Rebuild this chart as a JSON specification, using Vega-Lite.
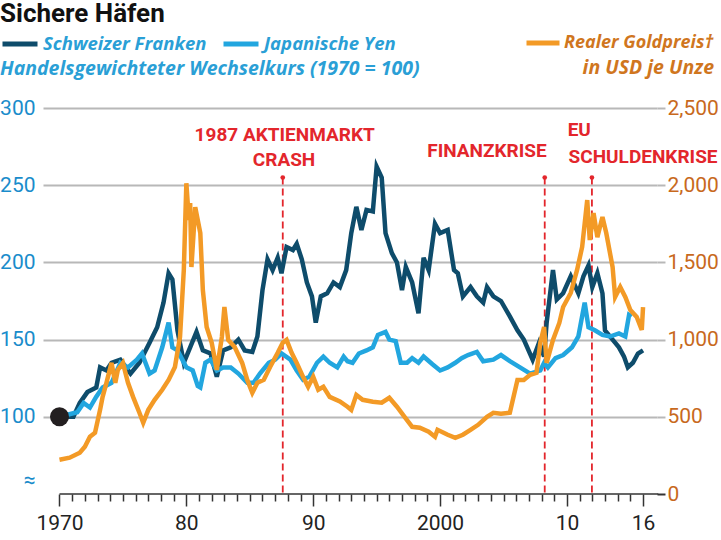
{
  "$schema": "https://vega.github.io/schema/vega-lite/v6.json",
  "width": 614,
  "height": 386,
  "autosize": {"type": "none"},
  "padding": {"left": 43, "top": 108, "right": 64, "bottom": 46},
  "background": "white",
  "config": {"view": {"stroke": null}},
  "title": {
    "text": "Sichere Häfen",
    "anchor": "start",
    "frame": "group",
    "dx": -43,
    "offset": -3,
    "font": "Roboto",
    "fontSize": 26,
    "fontWeight": "bold",
    "color": "#111111"
  },
  "datasets": {
    "fx": [
      {"series": "Schweizer Franken", "year": 1970.0, "value": 100},
      {"series": "Schweizer Franken", "year": 1971.1, "value": 100},
      {"series": "Schweizer Franken", "year": 1971.6, "value": 109},
      {"series": "Schweizer Franken", "year": 1972.2, "value": 116},
      {"series": "Schweizer Franken", "year": 1972.9, "value": 119},
      {"series": "Schweizer Franken", "year": 1973.2, "value": 132},
      {"series": "Schweizer Franken", "year": 1973.7, "value": 130},
      {"series": "Schweizer Franken", "year": 1974.1, "value": 135},
      {"series": "Schweizer Franken", "year": 1974.8, "value": 137},
      {"series": "Schweizer Franken", "year": 1975.6, "value": 128},
      {"series": "Schweizer Franken", "year": 1976.3, "value": 135},
      {"series": "Schweizer Franken", "year": 1977.1, "value": 148},
      {"series": "Schweizer Franken", "year": 1977.7, "value": 158},
      {"series": "Schweizer Franken", "year": 1978.2, "value": 174},
      {"series": "Schweizer Franken", "year": 1978.6, "value": 193},
      {"series": "Schweizer Franken", "year": 1978.9, "value": 189},
      {"series": "Schweizer Franken", "year": 1979.3, "value": 156},
      {"series": "Schweizer Franken", "year": 1979.8, "value": 135},
      {"series": "Schweizer Franken", "year": 1980.3, "value": 145},
      {"series": "Schweizer Franken", "year": 1980.8, "value": 155},
      {"series": "Schweizer Franken", "year": 1981.3, "value": 143},
      {"series": "Schweizer Franken", "year": 1981.9, "value": 141},
      {"series": "Schweizer Franken", "year": 1982.4, "value": 126},
      {"series": "Schweizer Franken", "year": 1982.9, "value": 143},
      {"series": "Schweizer Franken", "year": 1983.5, "value": 145},
      {"series": "Schweizer Franken", "year": 1984.1, "value": 150},
      {"series": "Schweizer Franken", "year": 1984.6, "value": 143},
      {"series": "Schweizer Franken", "year": 1985.2, "value": 142},
      {"series": "Schweizer Franken", "year": 1985.6, "value": 152},
      {"series": "Schweizer Franken", "year": 1986.0, "value": 182},
      {"series": "Schweizer Franken", "year": 1986.4, "value": 202},
      {"series": "Schweizer Franken", "year": 1986.8, "value": 195},
      {"series": "Schweizer Franken", "year": 1987.2, "value": 203},
      {"series": "Schweizer Franken", "year": 1987.5, "value": 193},
      {"series": "Schweizer Franken", "year": 1987.9, "value": 210},
      {"series": "Schweizer Franken", "year": 1988.4, "value": 208},
      {"series": "Schweizer Franken", "year": 1988.7, "value": 212},
      {"series": "Schweizer Franken", "year": 1989.1, "value": 202},
      {"series": "Schweizer Franken", "year": 1989.5, "value": 187},
      {"series": "Schweizer Franken", "year": 1989.9, "value": 178},
      {"series": "Schweizer Franken", "year": 1990.2, "value": 161},
      {"series": "Schweizer Franken", "year": 1990.6, "value": 178},
      {"series": "Schweizer Franken", "year": 1991.1, "value": 180},
      {"series": "Schweizer Franken", "year": 1991.6, "value": 187},
      {"series": "Schweizer Franken", "year": 1992.1, "value": 184},
      {"series": "Schweizer Franken", "year": 1992.6, "value": 195},
      {"series": "Schweizer Franken", "year": 1993.0, "value": 219},
      {"series": "Schweizer Franken", "year": 1993.4, "value": 236},
      {"series": "Schweizer Franken", "year": 1993.8, "value": 221},
      {"series": "Schweizer Franken", "year": 1994.2, "value": 234},
      {"series": "Schweizer Franken", "year": 1994.7, "value": 233},
      {"series": "Schweizer Franken", "year": 1995.0, "value": 262},
      {"series": "Schweizer Franken", "year": 1995.4, "value": 255},
      {"series": "Schweizer Franken", "year": 1995.7, "value": 219},
      {"series": "Schweizer Franken", "year": 1996.2, "value": 206},
      {"series": "Schweizer Franken", "year": 1996.6, "value": 200},
      {"series": "Schweizer Franken", "year": 1997.0, "value": 182},
      {"series": "Schweizer Franken", "year": 1997.3, "value": 197},
      {"series": "Schweizer Franken", "year": 1997.8, "value": 187},
      {"series": "Schweizer Franken", "year": 1998.3, "value": 167},
      {"series": "Schweizer Franken", "year": 1998.7, "value": 203},
      {"series": "Schweizer Franken", "year": 1999.1, "value": 195},
      {"series": "Schweizer Franken", "year": 1999.6, "value": 225},
      {"series": "Schweizer Franken", "year": 2000.0, "value": 219},
      {"series": "Schweizer Franken", "year": 2000.6, "value": 221},
      {"series": "Schweizer Franken", "year": 2001.1, "value": 195},
      {"series": "Schweizer Franken", "year": 2001.4, "value": 193},
      {"series": "Schweizer Franken", "year": 2001.8, "value": 178},
      {"series": "Schweizer Franken", "year": 2002.4, "value": 184},
      {"series": "Schweizer Franken", "year": 2002.9, "value": 178},
      {"series": "Schweizer Franken", "year": 2003.4, "value": 174},
      {"series": "Schweizer Franken", "year": 2003.7, "value": 184},
      {"series": "Schweizer Franken", "year": 2004.2, "value": 178},
      {"series": "Schweizer Franken", "year": 2004.8, "value": 175},
      {"series": "Schweizer Franken", "year": 2005.5, "value": 165},
      {"series": "Schweizer Franken", "year": 2006.1, "value": 156},
      {"series": "Schweizer Franken", "year": 2006.6, "value": 150},
      {"series": "Schweizer Franken", "year": 2007.3, "value": 137},
      {"series": "Schweizer Franken", "year": 2007.8, "value": 148},
      {"series": "Schweizer Franken", "year": 2008.2, "value": 139},
      {"series": "Schweizer Franken", "year": 2008.4, "value": 161},
      {"series": "Schweizer Franken", "year": 2008.9, "value": 195},
      {"series": "Schweizer Franken", "year": 2009.2, "value": 176},
      {"series": "Schweizer Franken", "year": 2009.7, "value": 180},
      {"series": "Schweizer Franken", "year": 2010.3, "value": 191},
      {"series": "Schweizer Franken", "year": 2010.9, "value": 180},
      {"series": "Schweizer Franken", "year": 2011.3, "value": 191},
      {"series": "Schweizer Franken", "year": 2011.7, "value": 198},
      {"series": "Schweizer Franken", "year": 2012.0, "value": 184},
      {"series": "Schweizer Franken", "year": 2012.4, "value": 193},
      {"series": "Schweizer Franken", "year": 2012.8, "value": 180},
      {"series": "Schweizer Franken", "year": 2013.0, "value": 156},
      {"series": "Schweizer Franken", "year": 2013.6, "value": 150},
      {"series": "Schweizer Franken", "year": 2014.1, "value": 145},
      {"series": "Schweizer Franken", "year": 2014.5, "value": 139},
      {"series": "Schweizer Franken", "year": 2014.8, "value": 132},
      {"series": "Schweizer Franken", "year": 2015.2, "value": 135},
      {"series": "Schweizer Franken", "year": 2015.6, "value": 141},
      {"series": "Schweizer Franken", "year": 2016.0, "value": 143},
      {"series": "Japanische Yen", "year": 1970.0, "value": 100},
      {"series": "Japanische Yen", "year": 1971.4, "value": 103},
      {"series": "Japanische Yen", "year": 1971.9, "value": 109},
      {"series": "Japanische Yen", "year": 1972.4, "value": 106},
      {"series": "Japanische Yen", "year": 1972.9, "value": 113},
      {"series": "Japanische Yen", "year": 1973.4, "value": 119},
      {"series": "Japanische Yen", "year": 1974.1, "value": 122},
      {"series": "Japanische Yen", "year": 1974.8, "value": 135},
      {"series": "Japanische Yen", "year": 1975.4, "value": 132},
      {"series": "Japanische Yen", "year": 1976.1, "value": 137},
      {"series": "Japanische Yen", "year": 1976.5, "value": 141},
      {"series": "Japanische Yen", "year": 1977.1, "value": 128},
      {"series": "Japanische Yen", "year": 1977.5, "value": 130},
      {"series": "Japanische Yen", "year": 1978.1, "value": 145},
      {"series": "Japanische Yen", "year": 1978.6, "value": 161},
      {"series": "Japanische Yen", "year": 1978.9, "value": 145},
      {"series": "Japanische Yen", "year": 1979.3, "value": 143},
      {"series": "Japanische Yen", "year": 1980.0, "value": 132},
      {"series": "Japanische Yen", "year": 1980.5, "value": 130},
      {"series": "Japanische Yen", "year": 1980.9, "value": 120},
      {"series": "Japanische Yen", "year": 1981.1, "value": 119},
      {"series": "Japanische Yen", "year": 1981.5, "value": 135},
      {"series": "Japanische Yen", "year": 1981.9, "value": 137},
      {"series": "Japanische Yen", "year": 1982.4, "value": 130},
      {"series": "Japanische Yen", "year": 1982.9, "value": 132},
      {"series": "Japanische Yen", "year": 1983.5, "value": 132},
      {"series": "Japanische Yen", "year": 1984.1, "value": 128},
      {"series": "Japanische Yen", "year": 1984.8, "value": 122},
      {"series": "Japanische Yen", "year": 1985.3, "value": 122},
      {"series": "Japanische Yen", "year": 1985.8, "value": 128},
      {"series": "Japanische Yen", "year": 1986.5, "value": 135},
      {"series": "Japanische Yen", "year": 1987.0, "value": 137},
      {"series": "Japanische Yen", "year": 1987.5, "value": 141},
      {"series": "Japanische Yen", "year": 1988.2, "value": 137},
      {"series": "Japanische Yen", "year": 1988.7, "value": 130},
      {"series": "Japanische Yen", "year": 1989.2, "value": 124},
      {"series": "Japanische Yen", "year": 1989.7, "value": 126},
      {"series": "Japanische Yen", "year": 1990.3, "value": 135},
      {"series": "Japanische Yen", "year": 1990.8, "value": 139},
      {"series": "Japanische Yen", "year": 1991.3, "value": 135},
      {"series": "Japanische Yen", "year": 1991.9, "value": 132},
      {"series": "Japanische Yen", "year": 1992.4, "value": 139},
      {"series": "Japanische Yen", "year": 1992.7, "value": 136},
      {"series": "Japanische Yen", "year": 1993.1, "value": 135},
      {"series": "Japanische Yen", "year": 1993.6, "value": 141},
      {"series": "Japanische Yen", "year": 1994.2, "value": 143},
      {"series": "Japanische Yen", "year": 1994.7, "value": 145},
      {"series": "Japanische Yen", "year": 1995.1, "value": 153},
      {"series": "Japanische Yen", "year": 1995.7, "value": 155},
      {"series": "Japanische Yen", "year": 1996.0, "value": 150},
      {"series": "Japanische Yen", "year": 1996.5, "value": 149},
      {"series": "Japanische Yen", "year": 1996.9, "value": 135},
      {"series": "Japanische Yen", "year": 1997.4, "value": 135},
      {"series": "Japanische Yen", "year": 1997.8, "value": 138},
      {"series": "Japanische Yen", "year": 1998.3, "value": 135},
      {"series": "Japanische Yen", "year": 1998.7, "value": 139},
      {"series": "Japanische Yen", "year": 1999.4, "value": 134},
      {"series": "Japanische Yen", "year": 2000.0, "value": 130},
      {"series": "Japanische Yen", "year": 2000.6, "value": 132},
      {"series": "Japanische Yen", "year": 2001.2, "value": 135},
      {"series": "Japanische Yen", "year": 2001.7, "value": 138},
      {"series": "Japanische Yen", "year": 2002.2, "value": 140},
      {"series": "Japanische Yen", "year": 2002.9, "value": 142},
      {"series": "Japanische Yen", "year": 2003.4, "value": 136},
      {"series": "Japanische Yen", "year": 2004.2, "value": 137},
      {"series": "Japanische Yen", "year": 2004.8, "value": 140},
      {"series": "Japanische Yen", "year": 2005.5, "value": 136},
      {"series": "Japanische Yen", "year": 2006.3, "value": 132},
      {"series": "Japanische Yen", "year": 2007.1, "value": 128},
      {"series": "Japanische Yen", "year": 2007.9, "value": 130},
      {"series": "Japanische Yen", "year": 2008.2, "value": 135},
      {"series": "Japanische Yen", "year": 2008.5, "value": 132},
      {"series": "Japanische Yen", "year": 2009.1, "value": 138},
      {"series": "Japanische Yen", "year": 2009.7, "value": 140},
      {"series": "Japanische Yen", "year": 2010.4, "value": 145},
      {"series": "Japanische Yen", "year": 2010.9, "value": 152},
      {"series": "Japanische Yen", "year": 2011.4, "value": 174},
      {"series": "Japanische Yen", "year": 2011.7, "value": 158},
      {"series": "Japanische Yen", "year": 2012.2, "value": 156},
      {"series": "Japanische Yen", "year": 2012.8, "value": 153},
      {"series": "Japanische Yen", "year": 2013.4, "value": 152},
      {"series": "Japanische Yen", "year": 2014.1, "value": 154},
      {"series": "Japanische Yen", "year": 2014.6, "value": 152},
      {"series": "Japanische Yen", "year": 2014.9, "value": 166},
      {"series": "Japanische Yen", "year": 2015.1, "value": 165}
    ],
    "gold": [
      {"series": "Realer Goldpreis†", "year": 1970.0, "value": 222},
      {"series": "Realer Goldpreis†", "year": 1970.8, "value": 235},
      {"series": "Realer Goldpreis†", "year": 1971.6, "value": 267},
      {"series": "Realer Goldpreis†", "year": 1972.0, "value": 306},
      {"series": "Realer Goldpreis†", "year": 1972.4, "value": 371},
      {"series": "Realer Goldpreis†", "year": 1972.8, "value": 397},
      {"series": "Realer Goldpreis†", "year": 1973.2, "value": 545},
      {"series": "Realer Goldpreis†", "year": 1973.4, "value": 629},
      {"series": "Realer Goldpreis†", "year": 1973.7, "value": 720},
      {"series": "Realer Goldpreis†", "year": 1974.1, "value": 849},
      {"series": "Realer Goldpreis†", "year": 1974.4, "value": 720},
      {"series": "Realer Goldpreis†", "year": 1974.6, "value": 804},
      {"series": "Realer Goldpreis†", "year": 1975.0, "value": 849},
      {"series": "Realer Goldpreis†", "year": 1975.4, "value": 720},
      {"series": "Realer Goldpreis†", "year": 1975.8, "value": 629},
      {"series": "Realer Goldpreis†", "year": 1976.3, "value": 526},
      {"series": "Realer Goldpreis†", "year": 1976.6, "value": 461},
      {"series": "Realer Goldpreis†", "year": 1977.0, "value": 545},
      {"series": "Realer Goldpreis†", "year": 1977.5, "value": 610},
      {"series": "Realer Goldpreis†", "year": 1978.1, "value": 675},
      {"series": "Realer Goldpreis†", "year": 1978.6, "value": 739},
      {"series": "Realer Goldpreis†", "year": 1979.1, "value": 823},
      {"series": "Realer Goldpreis†", "year": 1979.5, "value": 1017},
      {"series": "Realer Goldpreis†", "year": 1979.8, "value": 1451},
      {"series": "Realer Goldpreis†", "year": 1980.0, "value": 2013},
      {"series": "Realer Goldpreis†", "year": 1980.2, "value": 1774},
      {"series": "Realer Goldpreis†", "year": 1980.3, "value": 1884},
      {"series": "Realer Goldpreis†", "year": 1980.4, "value": 1470},
      {"series": "Realer Goldpreis†", "year": 1980.7, "value": 1858},
      {"series": "Realer Goldpreis†", "year": 1981.1, "value": 1690},
      {"series": "Realer Goldpreis†", "year": 1981.3, "value": 1321},
      {"series": "Realer Goldpreis†", "year": 1981.6, "value": 1082},
      {"series": "Realer Goldpreis†", "year": 1982.0, "value": 979},
      {"series": "Realer Goldpreis†", "year": 1982.4, "value": 804},
      {"series": "Realer Goldpreis†", "year": 1982.8, "value": 1017},
      {"series": "Realer Goldpreis†", "year": 1983.0, "value": 1211},
      {"series": "Realer Goldpreis†", "year": 1983.3, "value": 998},
      {"series": "Realer Goldpreis†", "year": 1983.8, "value": 953},
      {"series": "Realer Goldpreis†", "year": 1984.4, "value": 849},
      {"series": "Realer Goldpreis†", "year": 1984.8, "value": 739},
      {"series": "Realer Goldpreis†", "year": 1985.2, "value": 655},
      {"series": "Realer Goldpreis†", "year": 1985.6, "value": 720},
      {"series": "Realer Goldpreis†", "year": 1986.1, "value": 739},
      {"series": "Realer Goldpreis†", "year": 1986.6, "value": 823},
      {"series": "Realer Goldpreis†", "year": 1987.2, "value": 914},
      {"series": "Realer Goldpreis†", "year": 1987.6, "value": 979},
      {"series": "Realer Goldpreis†", "year": 1987.9, "value": 998},
      {"series": "Realer Goldpreis†", "year": 1988.3, "value": 914},
      {"series": "Realer Goldpreis†", "year": 1988.7, "value": 849},
      {"series": "Realer Goldpreis†", "year": 1989.2, "value": 759},
      {"series": "Realer Goldpreis†", "year": 1989.6, "value": 694},
      {"series": "Realer Goldpreis†", "year": 1990.0, "value": 759},
      {"series": "Realer Goldpreis†", "year": 1990.4, "value": 675},
      {"series": "Realer Goldpreis†", "year": 1990.8, "value": 694},
      {"series": "Realer Goldpreis†", "year": 1991.3, "value": 629},
      {"series": "Realer Goldpreis†", "year": 1992.1, "value": 600},
      {"series": "Realer Goldpreis†", "year": 1992.7, "value": 565},
      {"series": "Realer Goldpreis†", "year": 1993.0, "value": 545},
      {"series": "Realer Goldpreis†", "year": 1993.4, "value": 642},
      {"series": "Realer Goldpreis†", "year": 1993.9, "value": 610},
      {"series": "Realer Goldpreis†", "year": 1994.7, "value": 597},
      {"series": "Realer Goldpreis†", "year": 1995.4, "value": 591},
      {"series": "Realer Goldpreis†", "year": 1996.0, "value": 623},
      {"series": "Realer Goldpreis†", "year": 1996.6, "value": 565},
      {"series": "Realer Goldpreis†", "year": 1997.2, "value": 500},
      {"series": "Realer Goldpreis†", "year": 1997.8, "value": 435},
      {"series": "Realer Goldpreis†", "year": 1998.4, "value": 429},
      {"series": "Realer Goldpreis†", "year": 1999.1, "value": 403},
      {"series": "Realer Goldpreis†", "year": 1999.6, "value": 371},
      {"series": "Realer Goldpreis†", "year": 1999.8, "value": 416},
      {"series": "Realer Goldpreis†", "year": 2000.6, "value": 384},
      {"series": "Realer Goldpreis†", "year": 2001.2, "value": 364},
      {"series": "Realer Goldpreis†", "year": 2001.8, "value": 384},
      {"series": "Realer Goldpreis†", "year": 2002.4, "value": 416},
      {"series": "Realer Goldpreis†", "year": 2003.0, "value": 448},
      {"series": "Realer Goldpreis†", "year": 2003.7, "value": 500},
      {"series": "Realer Goldpreis†", "year": 2004.2, "value": 526},
      {"series": "Realer Goldpreis†", "year": 2004.8, "value": 520},
      {"series": "Realer Goldpreis†", "year": 2005.5, "value": 526},
      {"series": "Realer Goldpreis†", "year": 2006.1, "value": 739},
      {"series": "Realer Goldpreis†", "year": 2006.6, "value": 739},
      {"series": "Realer Goldpreis†", "year": 2007.1, "value": 772},
      {"series": "Realer Goldpreis†", "year": 2007.6, "value": 785},
      {"series": "Realer Goldpreis†", "year": 2007.9, "value": 979},
      {"series": "Realer Goldpreis†", "year": 2008.2, "value": 1082},
      {"series": "Realer Goldpreis†", "year": 2008.4, "value": 849},
      {"series": "Realer Goldpreis†", "year": 2008.9, "value": 998},
      {"series": "Realer Goldpreis†", "year": 2009.4, "value": 1108},
      {"series": "Realer Goldpreis†", "year": 2009.7, "value": 1211},
      {"series": "Realer Goldpreis†", "year": 2010.3, "value": 1302},
      {"series": "Realer Goldpreis†", "year": 2010.8, "value": 1451},
      {"series": "Realer Goldpreis†", "year": 2011.2, "value": 1600},
      {"series": "Realer Goldpreis†", "year": 2011.6, "value": 1904},
      {"series": "Realer Goldpreis†", "year": 2011.8, "value": 1645},
      {"series": "Realer Goldpreis†", "year": 2012.1, "value": 1819},
      {"series": "Realer Goldpreis†", "year": 2012.4, "value": 1664},
      {"series": "Realer Goldpreis†", "year": 2012.8, "value": 1794},
      {"series": "Realer Goldpreis†", "year": 2013.1, "value": 1690},
      {"series": "Realer Goldpreis†", "year": 2013.6, "value": 1470},
      {"series": "Realer Goldpreis†", "year": 2013.8, "value": 1276},
      {"series": "Realer Goldpreis†", "year": 2014.2, "value": 1341},
      {"series": "Realer Goldpreis†", "year": 2014.6, "value": 1276},
      {"series": "Realer Goldpreis†", "year": 2015.0, "value": 1192},
      {"series": "Realer Goldpreis†", "year": 2015.5, "value": 1147},
      {"series": "Realer Goldpreis†", "year": 2015.9, "value": 1063},
      {"series": "Realer Goldpreis†", "year": 2016.0, "value": 1211}
    ],
    "events": [
      {"year": 1987.6, "value": 255, "value2": 50},
      {"year": 2008.25, "value": 255, "value2": 50},
      {"year": 2011.97, "value": 255, "value2": 50}
    ],
    "notes": [
      {"text": "1987 AKTIENMARKT", "year": 1987.75, "value": 282.4},
      {"text": "CRASH", "year": 1987.7, "value": 266.5},
      {"text": "FINANZKRISE", "year": 2003.7, "value": 272.4},
      {"text": "EU", "year": 2010.97, "value": 285.6},
      {"text": "SCHULDENKRISE", "year": 2016.0, "value": 268.2}
    ],
    "start": [{"year": 1970, "value": 100}],
    "baseline": [{"year": 1970, "year2": 2017.2, "value": 0}]
  },
  "layer": [
    {
      "encoding": {
        "x": {
          "field": "year",
          "type": "quantitative",
          "scale": {"domain": [1968.7, 2017.1], "nice": false, "zero": false},
          "axis": null
        },
        "y": {
          "field": "value",
          "type": "quantitative",
          "scale": {"domain": [50, 300], "nice": false, "zero": false},
          "axis": {
            "title": null,
            "values": [59, 100, 150, 200, 250, 300],
            "labelExpr": "datum.value == 59 ? '≈' : datum.label",
            "grid": true,
            "gridColor": {"condition": {"test": "datum.value == 59", "value": "transparent"}, "value": "#b8b8b8"},
            "gridWidth": 2,
            "domain": false,
            "ticks": false,
            "labelColor": "#1a8ccb",
            "labelFont": "Roboto",
            "labelFontSize": 21,
            "labelPadding": 8
          }
        }
      },
      "layer": [
        {
          "data": {"name": "events"},
          "mark": {"type": "rule", "color": "#e3262c", "strokeWidth": 1.8, "strokeDash": [7, 4]},
          "encoding": {"y2": {"field": "value2"}}
        },
        {
          "data": {"name": "events"},
          "mark": {"type": "point", "filled": true, "color": "#e3262c", "size": 22, "opacity": 1}
        },
        {
          "data": {"name": "notes"},
          "mark": {"type": "text", "align": "center", "baseline": "middle", "font": "Roboto", "fontWeight": "bold", "fontSize": 19, "color": "#e3262c", "clip": false},
          "encoding": {"text": {"field": "text"}}
        },
        {
          "data": {"name": "fx"},
          "mark": {"type": "line", "strokeWidth": 4.5, "strokeJoin": "miter"},
          "encoding": {
            "color": {
              "field": "series",
              "type": "nominal",
              "sort": ["Schweizer Franken", "Japanische Yen"],
              "scale": {"domain": ["Schweizer Franken", "Japanische Yen"], "range": ["#0e4c6b", "#22a6df"]},
              "legend": {
                "orient": "none",
                "legendX": -43,
                "legendY": -84,
                "direction": "horizontal",
                "padding": 0,
                "title": "Handelsgewichteter Wechselkurs (1970 = 100)",
                "titleOrient": "bottom",
                "titleAnchor": "start",
                "titleFont": "Open Sans",
                "titleFontStyle": "italic",
                "titleFontWeight": "bold",
                "titleFontSize": 19.5,
                "titleColor": "#2a9fd6",
                "titleLimit": 700,
                "titlePadding": 6,
                "symbolType": "stroke",
                "symbolSize": 1225,
                "symbolStrokeWidth": 5,
                "labelFont": "Open Sans",
                "labelFontStyle": "italic",
                "labelFontWeight": "bold",
                "labelFontSize": 18.5,
                "labelColor": "#2a9fd6",
                "labelLimit": 400,
                "labelOffset": 3,
                "columnPadding": 6
              }
            },
            "order": {"field": "year", "type": "quantitative"}
          }
        },
        {
          "data": {"name": "start"},
          "mark": {"type": "circle", "color": "#231f20", "size": 360, "opacity": 1}
        }
      ]
    },
    {
      "encoding": {
        "y": {
          "field": "value",
          "type": "quantitative",
          "scale": {"domain": [0, 2500], "nice": false, "zero": true},
          "axis": {
            "orient": "right",
            "title": null,
            "values": [0, 500, 1000, 1500, 2000, 2500],
            "format": ",.0f",
            "grid": false,
            "domain": false,
            "ticks": true,
            "tickColor": {"condition": {"test": "datum.value == 0", "value": "#333333"}, "value": "#b8b8b8"},
            "tickWidth": 2,
            "tickSize": 8,
            "labelColor": "#c8691d",
            "labelFont": "Roboto",
            "labelFontSize": 21,
            "labelPadding": 2
          }
        }
      },
      "layer": [
        {
          "data": {"name": "gold"},
          "mark": {"type": "line", "strokeWidth": 4.5, "strokeJoin": "miter"},
          "encoding": {
            "x": {
              "field": "year",
              "type": "quantitative",
              "axis": {
                "orient": "bottom",
                "title": null,
                "values": [1970, 1980, 1990, 2000, 2010, 2016],
                "domain": false,
                "grid": false,
                "tickColor": "#333333",
                "tickWidth": 1.5,
                "tickSize": 12,
                "labelExpr": "(datum.value == 1970 || datum.value == 2000) ? '' + datum.value : substring('' + datum.value, 2)",
                "labelFont": "Roboto",
                "labelFontSize": 21,
                "labelColor": "#222222",
                "labelPadding": 6,
                "labelOverlap": false,
                "labelFlush": false,
                "labelBound": false
              }
            },
            "color": {
              "field": "series",
              "type": "nominal",
              "scale": {"domain": ["Realer Goldpreis†"], "range": ["#f39a26"]},
              "legend": {
                "orient": "none",
                "legendX": 481,
                "legendY": -84,
                "direction": "horizontal",
                "padding": 0,
                "title": "in USD je Unze",
                "titleOrient": "bottom",
                "titleAnchor": "end",
                "titleFont": "Open Sans",
                "titleFontStyle": "italic",
                "titleFontWeight": "bold",
                "titleFontSize": 19.5,
                "titleColor": "#d0761e",
                "titleLimit": 400,
                "titlePadding": 6,
                "symbolType": "stroke",
                "symbolSize": 1089,
                "symbolStrokeWidth": 5,
                "labelFont": "Open Sans",
                "labelFontStyle": "italic",
                "labelFontWeight": "bold",
                "labelFontSize": 18,
                "labelColor": "#d0761e",
                "labelLimit": 400,
                "labelOffset": 2
              }
            },
            "order": {"field": "year", "type": "quantitative"}
          }
        },
        {
          "data": {"name": "baseline"},
          "mark": {"type": "rule", "color": "#333333", "strokeWidth": 1.5},
          "encoding": {
            "x": {
              "field": "year",
              "type": "quantitative",
              "axis": {
                "orient": "bottom",
                "title": null,
                "values": [1971,1972,1973,1974,1975,1976,1977,1978,1979,1981,1982,1983,1984,1985,1986,1987,1988,1989,1991,1992,1993,1994,1995,1996,1997,1998,1999,2001,2002,2003,2004,2005,2006,2007,2008,2009,2011,2012,2013,2014,2015],
                "domain": false,
                "grid": false,
                "labels": true,
                "labelExpr": "''",
                "ticks": true,
                "tickColor": "#333333",
                "tickWidth": 1.5,
                "tickSize": 7
              }
            },
            "x2": {"field": "year2"}
          }
        }
      ],
      "resolve": {"axis": {"x": "independent"}}
    }
  ],
  "resolve": {"scale": {"y": "independent", "color": "independent"}}
}
